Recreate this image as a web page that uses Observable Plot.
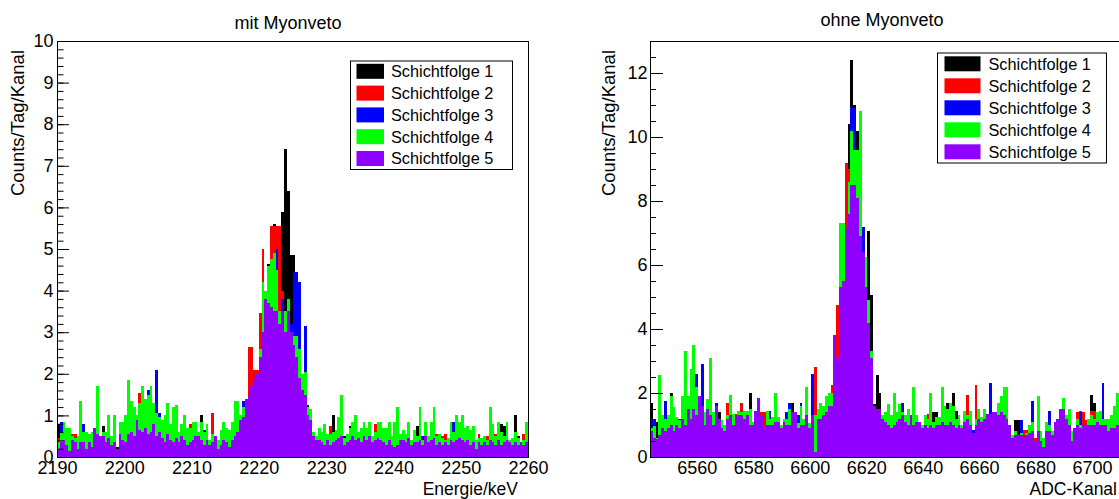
<!DOCTYPE html>
<html><head><meta charset="utf-8">
<script src="https://cdn.jsdelivr.net/npm/d3@7"></script>
<script src="https://cdn.jsdelivr.net/npm/@observablehq/plot@0.6"></script>
<style>
html,body{margin:0;padding:0;background:#fff;overflow:hidden}
#wrap{position:relative;width:1119px;height:499px;overflow:hidden;font-family:"Liberation Sans",Arial,sans-serif}
#wrap svg{position:absolute;top:0}
</style></head><body><div id="wrap"></div>
<script>
const seriesNames = ["Schichtfolge 1","Schichtfolge 2","Schichtfolge 3","Schichtfolge 4","Schichtfolge 5"];
const seriesColors = ["#000000","#ff0000","#0000ff","#00ff00","#8f00ff"];
const leftTitle = "mit Myonveto", rightTitle = "ohne Myonveto";
const yTitle = "Counts/Tag/Kanal";
const leftXTitle = "Energie/keV", rightXTitle = "ADC-Kanal";
const leftXTicks = [2190,2200,2210,2220,2230,2240,2250,2260];
const rightXTicks = [6560,6580,6600,6620,6640,6660,6680,6700];
const leftYTicks = [0,1,2,3,4,5,6,7,8,9,10];
const rightYTicks = [0,2,4,6,8,10,12];
const leftStart = 2190, leftBinWidth = 70/168;
const rightStart = 6543.4, rightBinWidth = 1;

// ---- left panel (mit Myonveto), 168 bins ----
const leftS1 = [
.8,.4,.4,.3,.3,.4,.4,.3,.5,.4,.3,.4,
.3,.5,.6,.4,.75,.4,.6,.3,.6,.25,.5,.5,
.6,.8,.8,.7,.8,.9,.9,.9,1.0,1.0,.9,.7,
.7,.5,.6,.7,.5,.6,.7,.4,.6,.6,.4,.5,
.6,.6,.5,1.0,.4,.5,.3,.4,.4,.3,.4,.5,
.4,.4,.5,.8,.8,.9,1.0,1.2,1.4,1.5,1.6,1.8,
2.3,3.0,3.5,4.65,4.4,5.6,4.3,3.3,5.9,7.4,6.4,4.85,
4.85,2.5,2.0,1.7,1.7,1.25,.9,.5,.4,.5,.4,.5,
.4,.5,1.0,.5,.6,.8,.5,.4,.75,.6,.6,.5,
.5,.6,.5,.6,.4,.5,.6,.5,.5,.4,.5,.4,
.5,.7,.45,.5,.45,.6,.35,.5,.75,.7,.35,.6,
.4,.6,.7,.4,.45,.4,.4,.4,.6,.5,.6,.6,
.7,.5,.5,.45,.5,.3,.4,.4,.4,.35,.7,.5,
.4,.6,.8,.75,.6,.35,.4,1.0,.5,.35,.35,.6];
const leftS2 = [
.45,.4,.4,.3,.3,.55,.55,.3,.5,.4,.3,.4,
.3,.5,.6,.4,.5,.4,.6,.3,.6,.1,.5,.5,
.6,.8,.8,.7,.9,1.55,.9,.9,1.0,1.0,.9,.7,
.7,.5,.6,.7,.5,.6,.7,.4,.6,.6,.4,.8,
.6,.6,.5,.5,.4,.5,.3,1.05,.4,.3,.4,.5,
.4,.4,.5,.8,.8,.9,1.0,1.3,2.65,2.65,2.1,2.1,
3.45,5.0,3.9,4.5,5.55,5.55,5.55,5.55,4.0,3.3,3.6,2.9,
2.8,2.5,2.0,1.7,1.7,1.1,.9,.5,.4,.5,.4,.5,
.4,.75,.5,.5,.6,.8,.4,.4,.5,.6,.6,.5,
.5,.6,.5,.6,.4,.8,.6,.5,.5,.4,.5,.4,
.5,.7,.45,.5,.45,.6,.35,.5,.4,.7,.35,.6,
.4,.6,.7,.55,.45,.5,.55,.4,.6,.5,.6,.6,
.7,.5,.5,.45,.5,.3,.55,.4,.4,.5,.7,.5,
.55,.6,.5,.45,.6,.35,.4,.5,.4,.35,.55,.6];
const leftS3 = [
.3,.85,.4,.3,.2,.4,.3,.3,.5,.8,.3,.4,
.3,.5,.6,.4,.5,.4,.6,.3,.5,.1,.6,.5,
.5,.8,.7,.6,.9,.8,.9,.9,1.6,1.0,.9,2.1,
1.05,.6,.5,.7,.5,.6,.7,.4,.6,.5,.4,.5,
.5,.6,.5,.5,.65,.5,.3,.4,.5,.3,.4,.5,
.4,.4,.5,.8,.9,.9,1.35,1.3,1.5,1.6,1.8,1.9,
2.4,3.5,3.9,4.0,4.2,4.3,5.0,3.3,3.8,3.2,3.6,3.2,
4.45,4.45,4.2,2.0,3.15,1.1,.9,.5,.4,.5,.4,.5,
.4,.4,.5,.5,.6,.8,.4,.4,.5,.6,.6,.5,
.5,.6,.5,.6,.4,.5,.6,.5,.5,.4,.5,.4,
.5,.7,.45,.5,.45,.6,.35,.5,.4,.7,.5,.6,
.4,.6,.7,.4,.45,.4,.4,.4,.6,.85,.6,.6,
.7,.5,.5,.45,.5,.3,.4,.4,.4,.35,.7,.5,
.4,.6,.5,.45,.6,.35,.4,.5,.4,.35,.35,.6];
const leftS4 = [
.35,.6,.85,.7,.7,.5,.45,.5,1.35,.6,.6,.55,
.6,.6,1.7,.5,.6,.6,1.0,.5,1.0,.1,.85,.85,
1.0,1.85,1.35,1.2,1.0,1.3,1.7,1.4,1.5,1.7,1.3,1.05,
.95,.9,1.0,1.3,.8,1.2,1.25,.6,.8,1.0,.7,.7,
.85,.85,.6,.85,.6,.8,.4,.55,.5,.4,.65,.85,
.7,.65,.85,1.35,1.35,1.0,1.2,1.3,1.5,1.7,1.75,1.6,
2.6,4.2,4.0,4.6,4.75,4.9,4.5,3.5,3.0,3.5,3.8,3.0,
2.9,2.9,2.6,2.0,2.05,1.2,1.15,.6,.5,.7,.6,.8,
.55,.55,.6,.65,.95,1.5,.45,.55,.7,.85,1.0,.6,
.7,.85,.7,.85,.5,.6,.85,.85,.7,.7,.85,.5,
.85,1.2,.55,.65,.55,.85,.4,.65,.5,1.2,.4,.85,
.5,.85,1.2,.5,.55,.45,.4,.45,.85,.6,1.0,.85,
1.0,.7,.75,.65,.75,.4,.45,.45,.5,.4,1.2,.8,
.5,.85,.6,.5,.85,.4,.45,.6,.45,.35,.4,.85];
const leftS5 = [
.2,.35,.4,.3,.15,.4,.35,.2,.35,.35,.2,.35,
.25,.7,.55,.5,.5,.35,.45,.3,.35,.2,.55,.4,
.35,.55,.6,.5,.9,.65,.6,.7,.55,.6,.8,.5,
.6,.45,.35,.55,.4,.35,.45,.35,.5,.4,.3,.35,
.4,.5,.5,.4,.3,.4,.3,.35,.5,.2,.3,.4,
.35,.25,.4,.5,.6,.9,.95,1.4,1.5,1.7,1.9,2.0,
2.4,3.0,3.8,3.7,3.6,3.5,3.5,3.2,3.5,3.0,3.5,3.0,
2.7,2.4,1.9,1.6,1.5,1.0,.9,.5,.4,.4,.35,.3,
.4,.3,.35,.4,.45,.5,.3,.35,.4,.5,.4,.45,
.35,.5,.4,.5,.35,.4,.45,.4,.35,.3,.4,.3,
.25,.3,.4,.4,.35,.45,.3,.35,.35,.4,.3,.5,
.35,.4,.45,.3,.35,.3,.35,.3,.4,.35,.4,.45,
.4,.35,.4,.3,.35,.2,.35,.3,.35,.3,.4,.35,
.3,.4,.3,.35,.4,.35,.3,.35,.3,.35,.3,.35];

// ---- right panel (ohne Myonveto), 167 channels ----
const rightS1 = [
1.7,.9,1.1,.7,.9,.8,.9,2.0,.9,1.0,.9,1.1,
1.0,1.4,1.2,1.4,1.3,1.5,1.5,1.0,1.4,1.3,1.0,1.3,
1.4,.9,.8,1.2,1.3,1.0,1.1,1.3,1.3,1.2,1.3,2.0,
1.0,1.3,1.3,1.0,.8,1.2,1.1,1.0,1.1,1.1,.9,1.1,
1.1,1.2,1.7,1.2,.9,1.3,1.0,1.3,.9,1.3,1.2,1.2,
1.2,1.3,1.4,1.6,1.9,3.4,2.9,5.3,5.5,7.0,10.4,12.4,
11.0,10.2,8.0,6.0,5.3,7.05,5.05,1.65,2.55,2.0,1.2,1.1,
1.0,.9,1.0,1.1,1.2,1.3,1.1,1.0,1.2,1.0,1.1,1.0,
.9,1.0,.9,1.0,1.4,1.4,1.0,1.1,1.0,1.7,1.1,2.0,
1.45,1.0,.9,1.1,1.2,1.0,.7,1.0,1.2,1.1,1.2,1.2,
1.2,1.3,1.2,1.3,1.4,1.3,1.2,1.0,.6,1.15,1.15,.7,
.6,.7,.75,.8,.4,.8,.5,.3,.8,.8,.7,1.0,
1.0,1.1,1.5,1.2,1.0,.5,.8,1.0,.9,.9,1.0,1.0,
1.95,1.7,1.1,1.0,1.0,1.0,.8,.9,.9,1.0,.9];
const rightS2 = [
1.0,.9,.5,.7,.9,.8,.9,1.0,.9,1.0,.9,1.1,
1.0,1.4,1.2,1.4,1.3,1.5,1.5,1.0,1.4,1.3,1.0,1.3,
1.1,.9,.8,1.7,1.3,1.0,1.35,1.3,1.7,1.2,1.3,1.0,
1.0,1.3,1.3,1.4,1.4,1.2,1.1,1.0,1.1,1.1,.9,1.1,
1.1,1.2,1.3,1.2,.9,1.3,1.0,1.3,.9,1.3,2.8,1.35,
1.2,1.3,1.4,1.6,2.25,3.4,4.75,5.3,5.5,9.2,9.0,9.5,
9.0,8.5,8.0,6.0,5.3,4.2,3.1,1.5,1.3,1.2,1.2,1.1,
1.0,.9,1.0,1.1,1.2,1.3,1.1,1.0,1.2,1.0,1.1,1.0,
.9,1.0,1.35,1.0,.9,1.0,1.0,1.1,1.0,1.0,1.1,1.0,
.9,1.0,.9,1.1,1.95,1.0,.7,2.25,1.2,1.1,1.2,1.2,
1.2,1.3,1.2,1.3,1.4,1.3,1.2,1.0,.6,.7,.7,.7,
.85,.85,.75,.8,.6,.8,.5,.3,.8,.8,.7,1.0,
1.0,1.1,1.5,1.2,1.0,.5,.8,1.4,1.45,1.4,1.15,1.0,
1.45,1.45,1.1,1.0,1.0,1.0,.8,.9,.9,1.0,.9];
const rightS3 = [
1.2,1.2,.5,.7,.9,1.75,1.25,1.0,.9,1.0,1.2,1.1,
1.0,1.4,1.2,1.4,2.6,1.5,2.9,1.0,1.4,1.3,1.0,1.7,
1.1,.9,.8,1.1,1.3,1.0,1.1,1.3,1.3,1.2,1.3,1.0,
1.0,1.3,1.3,1.0,.8,1.2,1.45,1.0,1.1,1.1,.9,1.1,
1.4,1.7,1.3,1.2,1.3,1.7,1.0,1.3,.9,2.6,1.3,1.2,
1.2,1.3,1.4,1.6,1.6,3.4,2.9,5.3,5.5,7.0,8.5,10.9,
10.9,9.5,8.0,7.2,5.3,4.2,3.1,1.5,1.3,1.2,1.2,1.1,
1.0,.9,1.0,1.1,1.2,1.7,1.1,1.0,1.2,1.0,1.1,1.0,
.9,1.0,.9,1.0,.9,1.0,1.0,1.1,1.0,1.0,1.1,1.0,
.9,1.0,.9,1.1,1.2,1.0,.85,1.0,1.2,1.1,1.2,1.2,
2.3,1.3,1.2,1.3,1.4,1.3,1.2,1.0,.6,.7,.7,1.15,
.6,.7,.75,1.75,.4,.8,.5,.3,.8,1.45,.7,1.0,
1.0,1.1,1.5,1.2,1.0,.5,.8,1.0,1.4,.9,1.0,1.0,
1.0,1.0,1.1,1.0,2.3,1.0,.8,.9,.9,1.0,.9];
const rightS4 = [
.9,1.0,.6,2.55,1.3,1.2,1.3,1.9,1.55,1.25,1.15,1.9,
3.3,1.9,2.75,3.5,2.2,1.8,1.5,1.4,1.8,3.1,1.4,1.3,
1.2,1.15,1.0,1.3,1.95,1.35,1.2,1.45,1.4,1.45,1.45,1.5,
1.1,1.45,1.4,1.0,.8,1.45,1.2,1.25,2.0,1.25,1.0,1.2,
1.2,1.5,1.4,1.3,1.05,1.6,1.2,2.2,1.05,1.3,1.3,1.5,
1.7,1.6,1.9,2.0,2.0,3.5,3.0,7.3,7.3,7.0,8.6,10.2,
9.6,9.6,10.8,6.2,6.25,4.9,3.3,1.5,1.3,1.2,1.3,1.4,
1.65,1.3,2.0,1.4,1.65,1.4,1.3,1.5,1.3,2.2,1.3,1.0,
1.0,1.3,1.2,2.0,1.1,1.25,1.25,2.2,1.6,1.5,1.7,1.6,
1.2,1.3,1.0,1.45,1.3,1.45,.7,1.2,1.5,1.25,1.5,1.3,
1.2,1.3,1.25,1.7,1.9,2.2,2.2,1.0,.7,.8,.7,.75,
.6,.75,1.0,1.1,.4,1.9,.8,.6,1.1,1.0,.8,1.0,
1.0,1.1,1.85,1.3,1.5,.8,.8,1.2,1.0,.9,1.0,1.2,
1.3,1.2,1.4,1.45,1.2,1.2,1.2,1.3,1.6,2.0,1.3];
const rightS5 = [
.8,.6,.55,.7,.9,.8,.9,1.0,.8,1.0,.9,1.2,
1.0,1.5,1.2,1.5,1.3,1.9,1.6,1.0,1.5,1.3,1.0,1.6,
1.2,.9,.8,1.2,1.3,1.0,1.3,1.3,1.3,1.2,1.3,1.0,
1.0,1.45,1.85,1.3,.9,1.0,1.0,1.0,1.1,1.1,.9,1.1,
1.0,1.0,1.4,1.4,.9,1.0,1.0,1.3,.9,1.3,.15,1.2,
1.2,1.3,1.4,1.6,1.6,3.8,3.1,5.3,5.5,7.2,7.6,8.5,
8.5,8.1,6.9,6.4,5.3,4.2,3.1,1.6,1.5,1.5,1.2,1.1,
1.0,.9,1.0,1.1,1.2,1.3,1.1,1.0,1.3,1.0,1.1,1.1,
.9,1.0,.9,1.0,.9,1.0,1.0,1.1,1.0,1.0,1.1,1.0,
.9,1.0,.9,1.1,1.2,1.0,.75,1.0,1.2,1.1,1.2,1.35,
1.35,1.4,1.4,1.3,1.4,1.3,1.2,1.0,.6,.7,.7,.7,
.6,.7,.75,.8,.5,.8,.5,.3,.8,.8,.7,1.1,
1.2,1.5,1.5,1.2,1.0,.5,.9,1.0,.9,1.0,1.05,1.0,
1.0,1.0,1.1,1.0,1.0,1.0,.8,.9,.9,1.0,.9];

const leftSeries = [leftS1,leftS2,leftS3,leftS4,leftS5];
const rightSeries = [rightS1,rightS2,rightS3,rightS4,rightS5];

function binsOf(values, start, w) {
  return values.map((v, i) => ({x1: start + i * w, x2: start + (i + 1) * w, y: v}));
}

function panel(o) {
  const bars = o.series.map((vals, k) =>
    Plot.rect(binsOf(vals, o.start, o.w), {x1: "x1", x2: "x2", y1: 0, y2: "y", fill: seriesColors[k], shapeRendering: "crispEdges"}));
  return Plot.plot({
    width: o.width, height: 499,
    marginLeft: o.marginLeft, marginRight: o.marginRight, marginTop: 41, marginBottom: 42,
    x: {domain: o.xDomain},
    y: {domain: o.yDomain},
    style: {fontFamily: '"Liberation Sans", Arial, sans-serif', fontSize: "18px", color: "#000", background: "transparent", overflow: "visible"},
    marks: [
      ...bars,
      Plot.axisX({ticks: o.xTicks, tickSize: 0, tickPadding: 4, label: null, tickFormat: d => String(d)}),
      Plot.axisY({ticks: o.yTicks, tickSize: 0, tickPadding: o.labelPad, label: null, tickFormat: d => String(d)}),
      Plot.axisY({ticks: o.yMinor, tickSize: o.minorLen, dx: o.minorLen, label: null, tickFormat: () => ""}),
      Plot.axisY({ticks: o.yTicks, tickSize: o.majorLen, dx: o.majorLen, label: null, tickFormat: () => ""}),
      Plot.frame({stroke: "#000", strokeWidth: 1})
    ]
  });
}

const wrap = document.getElementById("wrap");
const leftPlot = panel({series: leftSeries, start: leftStart, w: leftBinWidth, width: 560, marginLeft: 57, marginRight: 32,
  xDomain: [2190, 2260], yDomain: [0, 10], xTicks: leftXTicks, yTicks: leftYTicks,
  yMinor: d3.range(0, 10.001, 0.2), labelPad: 4, majorLen: 12, minorLen: 6.5});
leftPlot.style.left = "0px";
wrap.appendChild(leftPlot);

const rightPlot = panel({series: rightSeries, start: rightStart, w: rightBinWidth, width: 597, marginLeft: 90, marginRight: 30,
  xDomain: [6543.4, 6712.4], yDomain: [0, 13], xTicks: rightXTicks, yTicks: rightYTicks,
  yMinor: d3.range(0, 13.001, 0.5), labelPad: 3, majorLen: 13, minorLen: 6});
rightPlot.style.left = "560px";
wrap.appendChild(rightPlot);

// overlay: titles, axis titles, legends
const ov = d3.select(wrap).append("svg").attr("width", 1119).attr("height", 499)
  .style("left", "0px").style("pointer-events", "none")
  .style("font-family", '"Liberation Sans", Arial, sans-serif');
ov.append("text").attr("x", 288).attr("y", 29).attr("text-anchor", "middle").attr("font-size", 18).text(leftTitle);
ov.append("text").attr("x", 882).attr("y", 26).attr("text-anchor", "middle").attr("font-size", 18).text(rightTitle);
ov.append("text").attr("transform", "translate(24,50) rotate(-90)").attr("text-anchor", "end").attr("font-size", 18.5).text(yTitle);
ov.append("text").attr("transform", "translate(615,50) rotate(-90)").attr("text-anchor", "end").attr("font-size", 18.5).text(yTitle);
ov.append("text").attr("x", 518).attr("y", 495).attr("text-anchor", "end").attr("font-size", 17.5).text(leftXTitle);
ov.append("text").attr("x", 1117).attr("y", 495).attr("text-anchor", "end").attr("font-size", 17.5).text(rightXTitle);

function legend(bx, by, bw, bh, sx, sw, rowTop, step, tx) {
  const g = ov.append("g");
  g.append("rect").attr("x", bx + 0.5).attr("y", by + 0.5).attr("width", bw).attr("height", bh)
    .attr("fill", "#fff").attr("stroke", "#000").attr("stroke-width", 1);
  seriesNames.forEach((name, i) => {
    const cy = rowTop + i * step;
    g.append("rect").attr("x", sx).attr("y", cy - 7.5).attr("width", sw).attr("height", 15).attr("fill", seriesColors[i]);
    g.append("text").attr("x", tx).attr("y", cy + 5.8).attr("font-size", 16.3).attr("fill", "#000").text(name);
  });
}
legend(350, 60.5, 162, 108.5, 356.5, 27.5, 71.3, 21.8, 391);
legend(937, 52.5, 169, 110, 944.5, 36, 63.8, 22.0, 988.5);
</script></body></html>
